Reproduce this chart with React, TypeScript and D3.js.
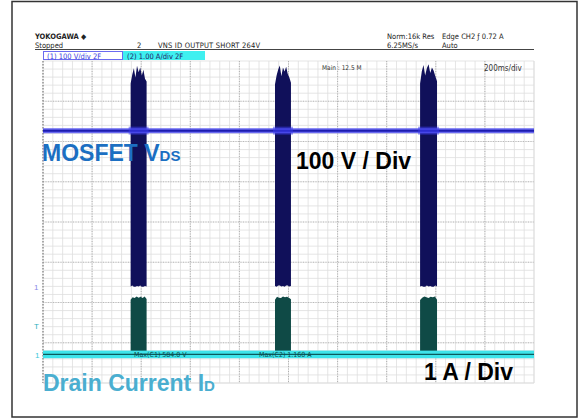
import React from "react";
import * as d3 from "d3";

// ---- data ----
const TIME_DOMAIN_MS = [0, 2000]; // 200 ms/div, 10 div
const DIVS_X = 10;
const DIVS_Y = 8;
const MINOR_PER_DIV = 5;
const BURST_START_MS = [357, 945, 1536];
const BURST_END_MS = [422, 1010, 1605];
const VDS_DC_V = 383;
const VDS_PER_DIV = 100;
const ID_PER_DIV = 1;
const CH1_OFFSET_DIV = 2.44;
const CH2_OFFSET_DIV = 0.71;
const VDS_BURST_TOPS = [
  [500, 522, 538, 515, 544, 528, 540, 520, 534, 512, 505],
  [498, 520, 535, 545, 518, 540, 530, 542, 524, 515, 502],
  [500, 530, 546, 520, 538, 548, 526, 540, 532, 518, 506],
];
const VDS_BURST_BOTTOMS = [
  [-4, -2, -5, -3, -4, -2, -5, -3, -4],
  [-3, -5, -2, -4, -3, -5, -2, -4, -3],
  [-4, -3, -5, -2, -4, -3, -5, -2, -4],
];
const ID_BURST_TOPS = [
  [1.36, 1.42, 1.40, 1.44, 1.41, 1.43, 1.40, 1.44, 1.38],
  [1.36, 1.43, 1.41, 1.40, 1.44, 1.42, 1.43, 1.41, 1.37],
  [1.35, 1.41, 1.44, 1.42, 1.40, 1.43, 1.42, 1.44, 1.36],
];
const HEADER_LEFT = ["YOKOGAWA ◆", "Stopped"];
const HEADER_TITLE = ["2", "VNS ID OUTPUT SHORT 264V"];
const HEADER_ACQ = ["Norm:16k Res", "6.25MS/s"];
const HEADER_TRIG = ["Edge CH2 ƒ 0.72 A", "Auto"];
const CH1_LABEL = "(1)  100 V/div 2F";
const CH2_LABEL = "(2)  1.00 A/div 2F";
const MAIN_LABEL = "Main : 12.5 M";
const TIMEBASE_LABEL = "200ms/div";
const MEAS_LABELS = ["Max(C1)  584.0 V", "Max(C2)  1.160 A"];

const W = 579;
const H = 419;
const PLOT = { left: 43, right: 534, top: 61, bottom: 383 };

export default function App() {
  const x = d3.scaleLinear().domain(TIME_DOMAIN_MS).range([PLOT.left, PLOT.right]);
  const yDiv = d3.scaleLinear().domain([0, DIVS_Y]).range([PLOT.bottom, PLOT.top]);
  const yV = (v: number) => yDiv(CH1_OFFSET_DIV + v / VDS_PER_DIV);
  const yI = (a: number) => yDiv(CH2_OFFSET_DIV + a / ID_PER_DIV);

  const minorX = d3.range(0, DIVS_X * MINOR_PER_DIV + 1).map((i) => i / MINOR_PER_DIV);
  const minorY = d3.range(0, DIVS_Y * MINOR_PER_DIV + 1).map((i) => i / MINOR_PER_DIV);
  const xDiv = d3.scaleLinear().domain([0, DIVS_X]).range([PLOT.left, PLOT.right]);

  type P = { t: number; top: number; bot: number };
  const burstPts = (bi: number, tops: number[], bots: number[] | null): P[] => {
    const s = BURST_START_MS[bi];
    const e = BURST_END_MS[bi];
    return tops.map((v, i) => {
      const t = s + ((e - s) * i) / (tops.length - 1);
      let b = 0;
      if (bots) {
        const j = Math.round((i / (tops.length - 1)) * (bots.length - 1));
        b = bots[j];
      }
      return { t, top: v, bot: b };
    });
  };

  const vArea = d3
    .area<P>()
    .x((d) => x(d.t))
    .y0((d) => yV(d.bot))
    .y1((d) => yV(d.top))
    .curve(d3.curveLinear);
  const iArea = d3
    .area<P>()
    .x((d) => x(d.t))
    .y0(() => yI(0))
    .y1((d) => yI(d.top))
    .curve(d3.curveLinear);

  const font = "'Liberation Sans', Arial, sans-serif";
  const narrow = "'Liberation Sans Narrow', 'DejaVu Sans Condensed', 'Liberation Sans', sans-serif";
  const small = { fontFamily: narrow, fontSize: 7.5, fill: "#222" } as const;

  const yVdc = yV(VDS_DC_V);
  const yI0 = yI(0);

  return (
    <svg
      width={W}
      height={H}
      style={{ position: "absolute", left: 0, top: 0, background: "#fff" }}
    >
      <rect x={0} y={0} width={W} height={H} fill="#fff" />
      {/* outer frame */}
      <rect x={12} y={1.5} width={565} height={415.5} fill="none" stroke="#333" strokeWidth={1.5} />

      {/* header */}
      <text x={35} y={39} {...small} fontWeight="bold">{HEADER_LEFT[0]}</text>
      <text x={35} y={47.5} {...small}>{HEADER_LEFT[1]}</text>
      <text x={137} y={47.5} {...small}>{HEADER_TITLE[0]}</text>
      <text x={158} y={47.5} {...small} textLength={102}>{HEADER_TITLE[1]}</text>
      <text x={387} y={39} {...small}>{HEADER_ACQ[0]}</text>
      <text x={387} y={47.5} {...small}>{HEADER_ACQ[1]}</text>
      <text x={442} y={39} {...small}>{HEADER_TRIG[0]}</text>
      <text x={442} y={47.5} {...small}>{HEADER_TRIG[1]}</text>
      <line x1={35} x2={534} y1={49.5} y2={49.5} stroke="#444" strokeWidth={1} />

      {/* channel bars */}
      <rect x={43.5} y={51.5} width={79} height={8} fill="#fff" stroke="#6a6af0" strokeWidth={1} />
      <text x={47} y={58.5} fontFamily={narrow} fontSize={7.5} fill="#3a3ae0">{CH1_LABEL}</text>
      <rect x={123} y={51} width={82} height={9} fill="#3ff0f0" />
      <text x={127} y={58.5} fontFamily={narrow} fontSize={7.5} fill="#226">{CH2_LABEL}</text>

      {/* grid */}
      <g>
        {minorX.map((d, i) => (
          <line key={"mx" + i} x1={xDiv(d)} x2={xDiv(d)} y1={PLOT.top} y2={PLOT.bottom} stroke="#dedede" strokeWidth={0.8} />
        ))}
        {minorY.map((d, i) => (
          <line key={"my" + i} x1={PLOT.left} x2={PLOT.right} y1={yDiv(d)} y2={yDiv(d)} stroke="#dedede" strokeWidth={0.8} />
        ))}
        {d3.range(1, DIVS_X).map((d) => (
          <line key={"Mx" + d} x1={xDiv(d)} x2={xDiv(d)} y1={PLOT.top} y2={PLOT.bottom} stroke="#a8a8a8" strokeWidth={0.9} strokeDasharray="1,1.5" />
        ))}
        {d3.range(1, DIVS_Y).map((d) => (
          <line key={"My" + d} x1={PLOT.left} x2={PLOT.right} y1={yDiv(d)} y2={yDiv(d)} stroke="#b4b4b4" strokeWidth={0.9} strokeDasharray="1,1.5" />
        ))}
        <line x1={PLOT.left} x2={PLOT.left} y1={PLOT.top} y2={PLOT.bottom} stroke="#8c8c8c" strokeWidth={1.4} strokeDasharray="1.5,1.5" />
        <line x1={PLOT.right} x2={PLOT.right} y1={PLOT.top} y2={PLOT.bottom} stroke="#dcdcdc" strokeWidth={0.8} />
        <line x1={PLOT.left} x2={PLOT.right} y1={PLOT.bottom} y2={PLOT.bottom} stroke="#dcdcdc" strokeWidth={0.8} />
      </g>

      {/* grid labels */}
      <text x={322} y={70} fontFamily={narrow} fontSize={6.5} fill="#333">{MAIN_LABEL}</text>
      <text x={484} y={71} fontFamily={narrow} fontSize={8} fill="#333">{TIMEBASE_LABEL}</text>

      {/* Vds bursts */}
      {BURST_START_MS.map((_, i) => (
        <path key={"vb" + i} d={vArea(burstPts(i, VDS_BURST_TOPS[i], VDS_BURST_BOTTOMS[i])) || ""} fill="#10105a" />
      ))}
      {/* Vds DC trace */}
      <line x1={x(TIME_DOMAIN_MS[0])} x2={x(TIME_DOMAIN_MS[1])} y1={yVdc} y2={yVdc} stroke="#5a5af0" strokeWidth={5} opacity={0.9} />
      <line x1={x(TIME_DOMAIN_MS[0])} x2={x(TIME_DOMAIN_MS[1])} y1={yVdc} y2={yVdc} stroke="#1c1cb0" strokeWidth={2} />
      {BURST_START_MS.map((s, i) => (
        <rect key={"glow" + i} x={x(s) - 2} y={yVdc - 4} width={x(BURST_END_MS[i]) - x(s) + 4} height={8} fill="#3c3cf0" opacity={0.5} />
      ))}

      {/* Id bursts */}
      {BURST_START_MS.map((_, i) => (
        <path key={"ib" + i} d={iArea(burstPts(i, ID_BURST_TOPS[i], null)) || ""} fill="#0f4a46" />
      ))}
      {/* Id trace */}
      <rect x={x(TIME_DOMAIN_MS[0])} y={yI0 - 3.8} width={x(TIME_DOMAIN_MS[1]) - x(TIME_DOMAIN_MS[0])} height={7.6} fill="#3ee4ea" />
      <line x1={x(TIME_DOMAIN_MS[0])} x2={x(TIME_DOMAIN_MS[1])} y1={yI0} y2={yI0} stroke="#0c5a5c" strokeWidth={1.4} />

      {/* measurement labels on trace */}
      <text x={134} y={yI0 + 2.5} fontFamily={narrow} fontSize={7} fill="#0c4a4a">{MEAS_LABELS[0]}</text>
      <text x={259} y={yI0 + 2.5} fontFamily={narrow} fontSize={7} fill="#0c4a4a">{MEAS_LABELS[1]}</text>

      {/* channel markers */}
      <text x={34} y={yV(0) + 5} fontFamily={font} fontSize={8} fill="#8a8ae6">1</text>
      <text x={34} y={yI(0.72) + 4} fontFamily={font} fontSize={8} fill="#2ab0c0">T</text>
      <text x={35} y={yI0 + 4} fontFamily={font} fontSize={8} fill="#40c8d8">1</text>

      {/* annotations */}
      <text x={42} y={161} fontFamily={font} fontSize={23} fontWeight="bold" fill="#1c6fc2">
        MOSFET V<tspan fontSize={15}>DS</tspan>
      </text>
      <text x={296} y={169} fontFamily={font} fontSize={23} fontWeight="bold" fill="#000">100 V / Div</text>
      <text x={424} y={379.5} fontFamily={font} fontSize={23} fontWeight="bold" fill="#000">1 A / Div</text>
      <text x={43} y={391} fontFamily={font} fontSize={23} fontWeight="bold" fill="#4aaed0">
        Drain Current I<tspan fontSize={15}>D</tspan>
      </text>
    </svg>
  );
}
